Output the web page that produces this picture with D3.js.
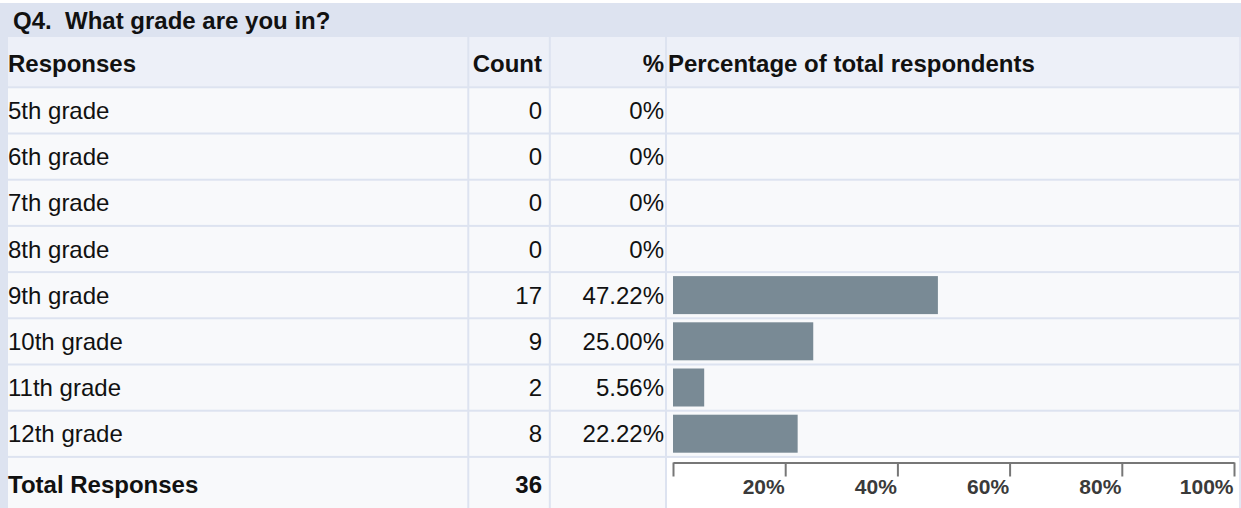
<!DOCTYPE html>
<html>
<head>
<meta charset="utf-8">
<script src="https://cdn.jsdelivr.net/npm/d3@7"></script>
<style>
  html, body { margin: 0; padding: 0; background: #fff; }
  svg { display: block; font-family: "Liberation Sans", Arial, sans-serif; }
</style>
</head>
<body>
<svg id="chart" width="1241" height="508"></svg>
<script>
// question + table data
var question = 'Q4.\u00a0\u00a0What grade are you in?';
var headers = ['Responses', 'Count', '%', 'Percentage of total respondents'];
var categories = ['5th grade', '6th grade', '7th grade', '8th grade', '9th grade', '10th grade', '11th grade', '12th grade'];
var counts = [0, 0, 0, 0, 17, 9, 2, 8];
var percents = [0, 0, 0, 0, 47.22, 25.00, 5.56, 22.22];
var tickValues = [0, 20, 40, 60, 80, 100];
var totalLabel = 'Total Responses';

var W = 1241, H = 508;
var frame = '#dde3f0', headBg = '#edf0f8', rowBg = '#f8f9fb', barColor = '#798a95';
var fs = 24;

var svg = d3.select('#chart');

// column edges (left, right) for each cell
var cols = [[8, 467.3], [469.3, 548.8], [550.8, 665], [667, 1239]];

var y = d3.scaleBand().domain(categories).range([87.3, 87.3 + categories.length * 46.2]);
var x = d3.scaleLinear().domain([0, 100]).range([673, 1234]);

var fmtPct = function(v) { return v === 0 ? '0%' : v.toFixed(2) + '%'; };
var baseY = function(d) { return y(d) + y.bandwidth() / 2 + 8.5; };

// frame / border colour
svg.append('rect').attr('x', 0).attr('y', 3).attr('width', W).attr('height', H - 3).attr('fill', frame);
svg.append('rect').attr('x', 1239).attr('y', 37).attr('width', 2).attr('height', H - 37).attr('fill', '#e3e6f2');

// title
svg.append('text').attr('x', 13).attr('y', 28.5)
  .attr('font-size', fs).attr('font-weight', 'bold').attr('fill', '#111')
  .text(question);

// header row
var headTop = 37, headBot = 86.3;
cols.forEach(function(c) {
  svg.append('rect').attr('x', c[0]).attr('y', headTop)
    .attr('width', c[1] - c[0]).attr('height', headBot - headTop).attr('fill', headBg);
});
var headG = svg.append('g').attr('font-size', fs).attr('font-weight', 'bold').attr('fill', '#111');
headG.append('text').attr('x', 8).attr('y', 72).text(headers[0]);
headG.append('text').attr('x', 542).attr('y', 72).attr('text-anchor', 'end').text(headers[1]);
headG.append('text').attr('x', 664).attr('y', 72).attr('text-anchor', 'end').text(headers[2]);
headG.append('text').attr('x', 668).attr('y', 72).text(headers[3]);

// data rows
var rows = svg.append('g').selectAll('g.row')
  .data(categories)
  .enter().append('g').attr('class', 'row');

cols.forEach(function(c) {
  rows.append('rect')
    .attr('x', c[0]).attr('y', function(d) { return y(d) + 1; })
    .attr('width', c[1] - c[0]).attr('height', y.bandwidth() - 2)
    .attr('fill', rowBg);
});

rows.append('text').attr('x', 8).attr('y', baseY)
  .attr('font-size', fs).attr('fill', '#111')
  .text(function(d) { return d; });

rows.append('text').attr('x', 542).attr('text-anchor', 'end').attr('y', baseY)
  .attr('font-size', fs).attr('fill', '#111')
  .text(function(d, i) { return counts[i]; });

rows.append('text').attr('x', 664).attr('text-anchor', 'end').attr('y', baseY)
  .attr('font-size', fs).attr('fill', '#111')
  .text(function(d, i) { return fmtPct(percents[i]); });

rows.filter(function(d, i) { return percents[i] > 0; })
  .append('rect')
  .attr('x', x(0))
  .attr('y', function(d) { return y(d) + 4; })
  .attr('width', function(d) { return x(percents[categories.indexOf(d)]) - x(0); })
  .attr('height', 38)
  .attr('fill', barColor);

// total row
var totTop = y.range()[1] + 1;
cols.forEach(function(c, i) {
  svg.append('rect').attr('x', c[0]).attr('y', totTop)
    .attr('width', c[1] - c[0]).attr('height', H - totTop)
    .attr('fill', i === 3 ? '#ffffff' : rowBg);
});
var totG = svg.append('g').attr('font-size', fs).attr('font-weight', 'bold').attr('fill', '#111');
totG.append('text').attr('x', 8).attr('y', 492.5).text(totalLabel);
totG.append('text').attr('x', 542).attr('y', 492.5).attr('text-anchor', 'end').text(d3.sum(counts));

// percentage axis
var axis = d3.axisBottom(x)
  .tickValues(tickValues)
  .tickSize(14)
  .tickSizeOuter(0)
  .tickFormat(function(d) { return d ? d + '%' : ''; });

var axG = svg.append('g').attr('transform', 'translate(0,462.5)').call(axis);
axG.select('.domain').attr('stroke', '#777').attr('stroke-width', 2);
axG.selectAll('.tick line').attr('stroke', '#777').attr('stroke-width', 2);
axG.selectAll('.tick text')
  .attr('text-anchor', 'end').attr('x', -1).attr('y', 31.5).attr('dy', 0)
  .attr('font-family', '"Liberation Sans", Arial, sans-serif')
  .attr('font-size', 21).attr('font-weight', 'bold').attr('fill', '#3a3a3a');
</script>
</body>
</html>
